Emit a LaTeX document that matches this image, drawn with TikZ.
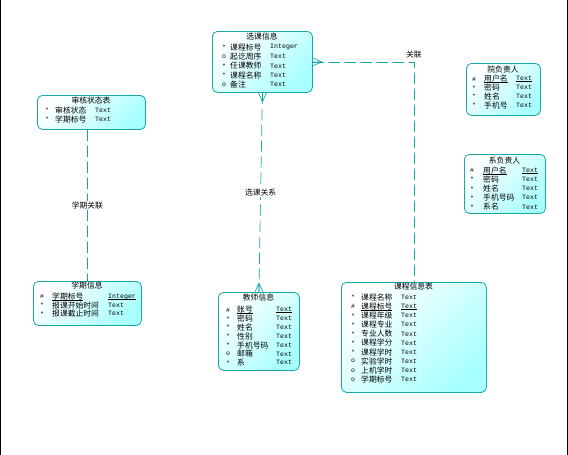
\documentclass[tikz,border=0pt]{standalone}
\usepackage{fontspec}
\newfontfamily\cjk{Noto Sans CJK SC}
\newfontfamily\monofnt{Liberation Mono}
\usetikzlibrary{calc}
\definecolor{entline}{rgb}{0.1,0.66,0.66}
\definecolor{entfill}{rgb}{0.66,1,1}

\tikzset{
  entity/.style={draw=entline,line width=0.8pt,rounded corners=5pt,anchor=north west,
    inner sep=0pt,top color=white,bottom color=entfill,shading angle=45},
  title/.style={inner sep=0pt,font=\cjk\fontsize{7.8}{8}\selectfont},
  sym/.style={anchor=west,inner sep=0pt,font=\monofnt\fontsize{6.5}{7}\selectfont},
  attr/.style={anchor=west,inner sep=0pt,font=\cjk\fontsize{7.8}{8}\selectfont},
  typ/.style={anchor=west,inner sep=0pt,font=\monofnt\fontsize{6.6}{7}\selectfont},
  rel/.style={draw=entline,line width=0.7pt,dash pattern=on 11pt off 5pt},
  rellabel/.style={inner sep=1pt,fill=white,font=\cjk\fontsize{7.8}{8}\selectfont}
}

% rows of an entity: x of symbol, x of name, x of type, y of first row, step, list
\newcommand{\entrows}[6]{%
  \foreach \s/\a/\t [count=\i from 0] in {#6} {
    \node[sym] at (#1,{#4+#5*\i}) {\s};
    \node[attr] at (#2,{#4+#5*\i}) {\a};
    \node[typ] at (#3,{#4+#5*\i}) {\t};
  }}

% crow's foot at the many end
\newcommand{\crowfoot}[3]{%
  \draw[rel,solid] ($(#1)+(#2)$) -- ($(#1)+(#3)$)
                   ($(#1)+(#2)$) -- (#1)
                   ($(#1)+(#2)$) -- ($(#1)-(#3)$);}

\newcommand{\mand}{\raisebox{-0.2em}{*}}
% tight underline for key columns
\newsavebox{\pkbox}
\newcommand{\pk}[1]{\sbox{\pkbox}{#1}\rlap{\rule[-1.3pt]{\wd\pkbox}{0.5pt}}\usebox{\pkbox}}

\begin{document}
\begin{tikzpicture}[x=1pt,y=-1pt,line cap=round]
\useasboundingbox (0,0) rectangle (568,455);
\draw[line width=0.8pt] (0.5,0) -- (0.5,455);
\draw[line width=0.8pt] (567.5,0) -- (567.5,455);

% entities
\node[entity,minimum width=100pt,minimum height=61pt] (xkxx) at (212,31) {};
\node[title] at (262,37) {选课信息};
\entrows{222}{230}{270}{47.3}{9.3}{\mand/课程标号/Integer, o/起讫周序/Text, \mand/任课教师/Text,
  \mand/课程名称/Text, o/备注/Text}

\node[entity,minimum width=108pt,minimum height=34pt] (shzt) at (37,95) {};
\node[title] at (91,101) {审核状态表};
\entrows{45}{55}{95}{110.5}{8.7}{\mand/审核状态/Text, \mand/学期标号/Text}

\node[entity,minimum width=74pt,minimum height=52pt] (yfzr) at (466,63) {};
\node[title] at (503,70) {院负责人};
\entrows{472}{484}{516}{79}{8.8}{\#/\pk{用户名}/\pk{Text}, \mand/密码/Text,
  \mand/姓名/Text, \mand/手机号/Text}

\node[entity,minimum width=81pt,minimum height=59pt] (xfzr) at (464,154) {};
\node[title] at (504.5,161) {系负责人};
\entrows{470}{483}{522}{170.5}{9.1}{\#/\pk{用户名}/\pk{Text}, \mand/密码/Text,
  \mand/姓名/Text, \mand/手机号码/Text, \mand/系名/Text}

\node[entity,minimum width=108pt,minimum height=44pt] (xqxx) at (33,281) {};
\node[title] at (87,286) {学期信息};
\entrows{40}{52}{108}{296.5}{8.6}{\#/\pk{学期标号}/\pk{Integer},
  \mand/报课开始时间/Text, \mand/报课截止时间/Text}

\node[entity,minimum width=81pt,minimum height=78pt] (jsxx) at (218,292) {};
\node[title] at (258.5,298) {教师信息};
\entrows{226}{237}{276}{310}{8.8}{\#/\pk{账号}/\pk{Text}, \mand/密码/Text,
  \mand/姓名/Text, \mand/性别/Text, \mand/手机号码/Text, o/邮箱/Text, \mand/系/Text}

\node[entity,minimum width=145pt,minimum height=110pt] (kcxx) at (341,282) {};
\node[title] at (413.5,287) {课程信息表};
\entrows{351}{361}{401}{297.5}{9.1}{\mand/课程名称/Text, \#/\pk{课程标号}/\pk{Text},
  \mand/课程年级/Text, \mand/课程专业/Text, \mand/专业人数/Text, \mand/课程学分/Text,
  \mand/课程学时/Text, o/实验学时/Text, o/上机学时/Text, o/学期标号/Text}

% relations
\draw[rel] (xqxx.north |- shzt.south) -- (xqxx.north) node[rellabel,midway] {学期关联};
\draw[rel] (xkxx.south) -- (jsxx.north) node[rellabel,midway] {选课关系};
\crowfoot{xkxx.south}{0,9}{4,0}
\crowfoot{jsxx.north}{0,-9}{4,0}
\draw[rel] (xkxx.east) -| (kcxx.north) node[title,pos=0.5,above=3pt] {关联};
\crowfoot{xkxx.east}{9,0}{0,4}
\end{tikzpicture}
\end{document}
